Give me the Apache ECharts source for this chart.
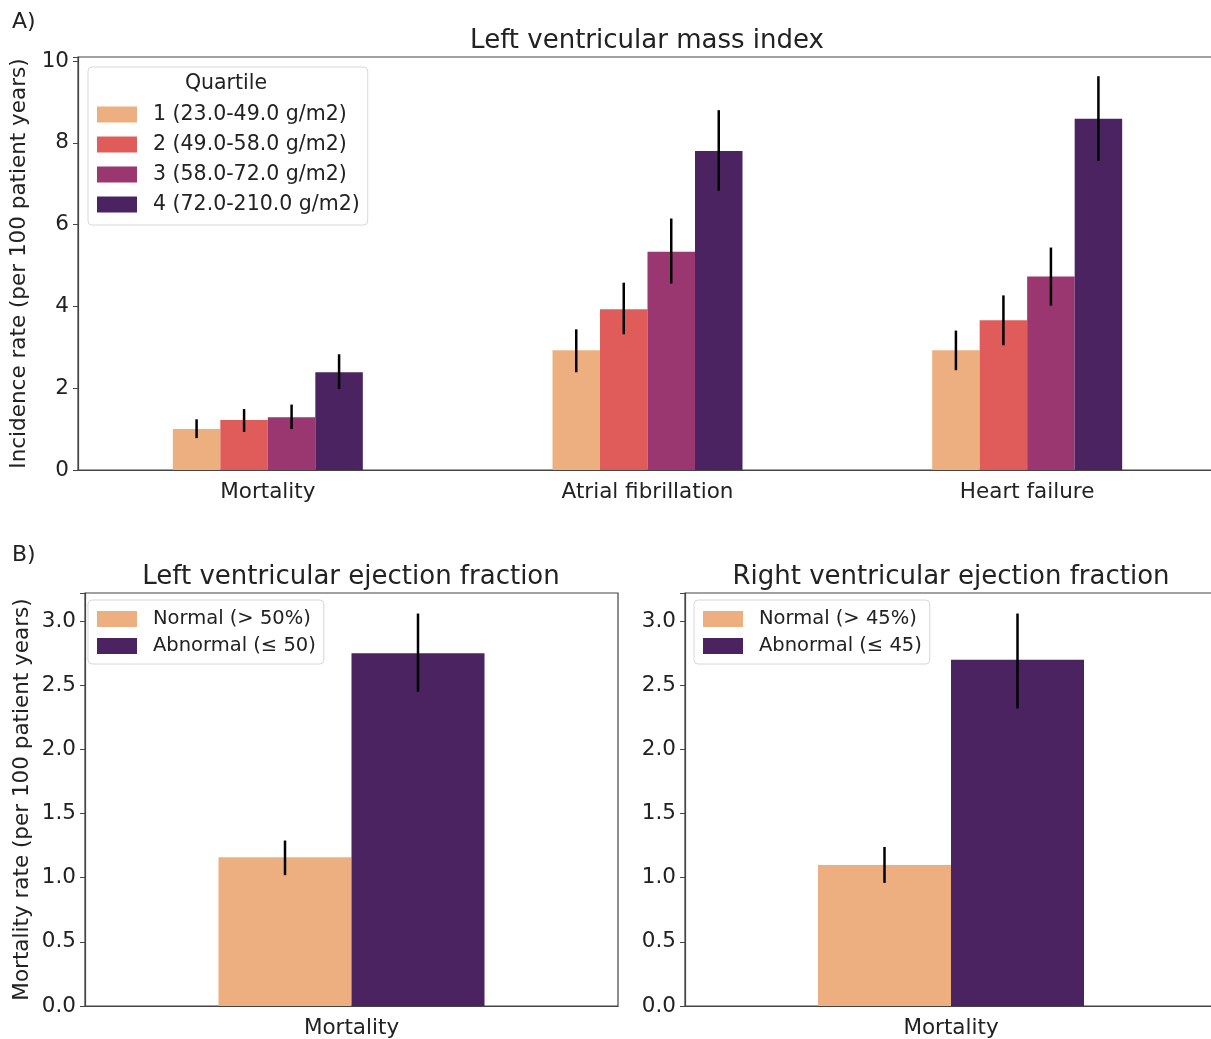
<!DOCTYPE html>
<html>
<head>
<meta charset="utf-8">
<script src="https://cdn.jsdelivr.net/npm/echarts@6/dist/echarts.min.js"></script>
<style>
  html, body { margin: 0; padding: 0; background: #fff; overflow: hidden; }
  #chart { width: 1220px; height: 1039px; }
</style>
</head>
<body>
<div id="chart"></div>
<script>
// panel A data
var categories = ['Mortality', 'Atrial fibrillation', 'Heart failure'];
var quartiles = ['1 (23.0-49.0 g/m2)', '2 (49.0-58.0 g/m2)', '3 (58.0-72.0 g/m2)', '4 (72.0-210.0 g/m2)'];
var q1Rate = [1.00, 2.93, 2.93];
var q1Low  = [0.78, 2.39, 2.44];
var q1High = [1.24, 3.44, 3.41];
var q2Rate = [1.22, 3.93, 3.66];
var q2Low  = [0.93, 3.32, 3.05];
var q2High = [1.49, 4.58, 4.27];
var q3Rate = [1.29, 5.34, 4.73];
var q3Low  = [1.00, 4.56, 4.02];
var q3High = [1.60, 6.15, 5.44];
var q4Rate = [2.39, 7.80, 8.59];
var q4Low  = [1.98, 6.83, 7.56];
var q4High = [2.83, 8.80, 9.63];

// panel B data
var outcome = ['Mortality'];
var lvefGroups = ['Normal (> 50%)', 'Abnormal (≤ 50)'];
var lvefRate = [1.16, 2.75];
var lvefLow  = [1.02, 2.45];
var lvefHigh = [1.29, 3.06];
var rvefGroups = ['Normal (> 45%)', 'Abnormal (≤ 45)'];
var rvefRate = [1.10, 2.70];
var rvefLow  = [0.96, 2.32];
var rvefHigh = [1.24, 3.06];

var quartileColors = ['#EDAF80', '#E05C5B', '#9A3770', '#4B2360'];
var groupColors = ['#EDAF80', '#4B2360'];
var FONT = 'DejaVu Sans';
var TXT = '#222';
var LINE = '#444';
var AXFS = 21.5;

var chart = echarts.init(document.getElementById('chart'));

function errSeries(axis, low, high, idx, count, barW) {
    return {
        type: 'custom',
        xAxisIndex: axis,
        yAxisIndex: axis,
        silent: true,
        z: 10,
        data: low.map(function (l, i) { return [i, l, high[i]]; }),
        encode: { x: 0, y: [1, 2] },
        renderItem: function (params, api) {
            var c = api.value(0);
            var p1 = api.coord([c, api.value(1)]);
            var p2 = api.coord([c, api.value(2)]);
            var dx = (idx - (count - 1) / 2) * barW;
            return {
                type: 'line',
                shape: { x1: p1[0] + dx, y1: p1[1], x2: p1[0] + dx, y2: p2[1] },
                style: { stroke: '#000', lineWidth: 2.5 }
            };
        }
    };
}

function xAx(grid, data) {
    return {
        type: 'category', gridIndex: grid, data: data,
        axisLine: { lineStyle: { color: LINE, width: 1.2 } },
        axisTick: { alignWithLabel: true, length: 5, lineStyle: { color: LINE } },
        axisLabel: { color: TXT, fontFamily: FONT, fontSize: AXFS, margin: 11 }
    };
}

function yAx(grid, max, interval, digits, name, gap) {
    return {
        type: 'value', gridIndex: grid, min: 0, max: max, interval: interval,
        name: name || '', nameLocation: 'middle', nameGap: gap || 46,
        nameTextStyle: { color: TXT, fontFamily: FONT, fontSize: AXFS },
        axisLine: { show: true, lineStyle: { color: LINE, width: 1.2 } },
        axisTick: { show: true, length: 5, lineStyle: { color: LINE } },
        splitLine: { show: false },
        axisLabel: {
            color: TXT, fontFamily: FONT, fontSize: AXFS, margin: 9,
            formatter: function (v) {
                var k = v / interval;
                if (Math.abs(k - Math.round(k)) > 1e-6) return '';
                return v.toFixed(digits);
            }
        }
    };
}

function legendBox(left, top, names, pad, gap, fs) {
    return {
        left: left, top: top, orient: 'vertical', data: names,
        icon: 'rect', itemWidth: 40, itemHeight: 16, itemGap: gap,
        padding: pad,
        backgroundColor: '#fff', borderColor: '#d8d8d8', borderWidth: 1, borderRadius: 4,
        textStyle: { color: TXT, fontFamily: FONT, fontSize: fs, lineHeight: 18, padding: [0, 0, 0, 11] },
        selectedMode: false
    };
}

var rates = [q1Rate, q2Rate, q3Rate, q4Rate];
var lows = [q1Low, q2Low, q3Low, q4Low];
var highs = [q1High, q2High, q3High, q4High];
var topBar = 47.5;
var botBar = 133;

var series = [];
quartiles.forEach(function (q, i) {
    series.push({
        name: q, type: 'bar', xAxisIndex: 0, yAxisIndex: 0,
        data: rates[i], barWidth: topBar, barGap: '0%',
        itemStyle: { color: quartileColors[i] }
    });
});
quartiles.forEach(function (q, i) {
    series.push(errSeries(0, lows[i], highs[i], i, 4, topBar));
});
[[lvefGroups, lvefRate, lvefLow, lvefHigh, 1], [rvefGroups, rvefRate, rvefLow, rvefHigh, 2]].forEach(function (p) {
    p[0].forEach(function (g, i) {
        series.push({
            name: g, type: 'bar', xAxisIndex: p[4], yAxisIndex: p[4],
            data: [p[1][i]], barWidth: botBar, barGap: '0%',
            itemStyle: { color: groupColors[i] }
        });
    });
    p[0].forEach(function (g, i) {
        series.push(errSeries(p[4], [p[2][i]], [p[3][i]], i, 2, botBar));
    });
});

var gridStyle = { show: true, borderColor: LINE, borderWidth: 1.2, backgroundColor: 'transparent' };

var option = {
    backgroundColor: '#fff',
    animation: false,
    grid: [
        Object.assign({ left: 78, top: 57, width: 1139, height: 413 }, gridStyle),
        Object.assign({ left: 85, top: 593, width: 533, height: 414 }, gridStyle),
        Object.assign({ left: 685, top: 593, width: 532, height: 414 }, gridStyle)
    ],
    xAxis: [xAx(0, categories), xAx(1, outcome), xAx(2, outcome)],
    yAxis: [
        yAx(0, 10.1, 2, 0, 'Incidence rate (per 100 patient years)', 46),
        yAx(1, 3.22, 0.5, 1, 'Mortality rate (per 100 patient years)', 52),
        yAx(2, 3.22, 0.5, 1)
    ],
    legend: [
        legendBox(88, 67, quartiles, [37, 8, 10, 9], 9, 20.5),
        legendBox(88, 600, lvefGroups, [9, 8, 8, 9], 7, 19.5),
        legendBox(694, 600, rvefGroups, [9, 8, 8, 9], 7, 19.5)
    ],
    graphic: [
        { type: 'text', x: 12, y: 22, style: { text: 'A)', font: '22px "DejaVu Sans"', fill: TXT, textVerticalAlign: 'middle' } },
        { type: 'text', x: 12, y: 555, style: { text: 'B)', font: '22px "DejaVu Sans"', fill: TXT, textVerticalAlign: 'middle' } },
        { type: 'text', x: 647, y: 41, style: { text: 'Left ventricular mass index', font: '26px "DejaVu Sans"', fill: TXT, textAlign: 'center', textVerticalAlign: 'middle' } },
        { type: 'text', x: 351, y: 577, style: { text: 'Left ventricular ejection fraction', font: '26px "DejaVu Sans"', fill: TXT, textAlign: 'center', textVerticalAlign: 'middle' } },
        { type: 'text', x: 951, y: 577, style: { text: 'Right ventricular ejection fraction', font: '26px "DejaVu Sans"', fill: TXT, textAlign: 'center', textVerticalAlign: 'middle' } },
        { type: 'text', x: 226, y: 84, z: 100, style: { text: 'Quartile', font: '20.5px "DejaVu Sans"', fill: TXT, textAlign: 'center', textVerticalAlign: 'middle' } }
    ],
    series: series
};

chart.setOption(option);
</script>
</body>
</html>
